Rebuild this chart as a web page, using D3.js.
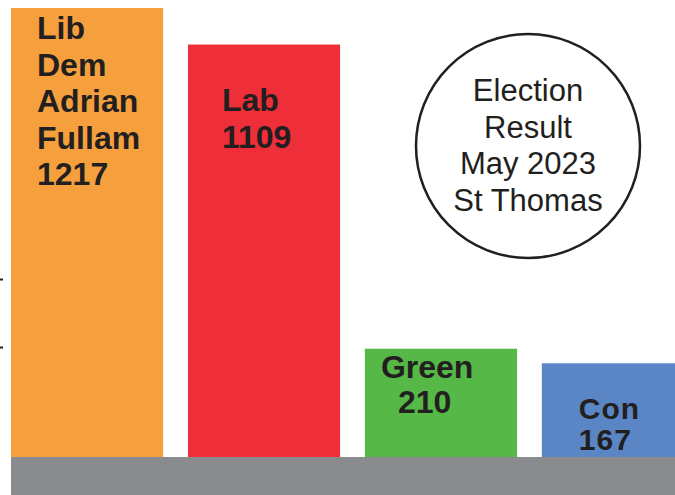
<!DOCTYPE html>
<html>
<head>
  <meta charset="utf-8">
  <script src="https://d3js.org/d3.v7.min.js"></script>
  <style>
    body { margin: 0; background: #fff; }
    svg { display: block; font-family: "Liberation Sans", Arial, sans-serif; }
    .bar-label { font-weight: bold; fill: #231f20; }
    .badge-text { fill: #231f20; text-anchor: middle; }
  </style>
</head>
<body>
  <svg id="chart"></svg>
  <script>
    // data
    const parties = ["Lib Dem", "Lab", "Green", "Con"];
    const votes = [1217, 1109, 210, 167];
    const labelLines = [
      ["Lib", "Dem", "Adrian", "Fullam", "1217"],
      ["Lab", "1109"],
      ["Green", "210"],
      ["Con", "167"]
    ];
    const colors = ["#f5a03d", "#ee2e38", "#56b847", "#5a86c5"];
    const badgeLines = ["Election", "Result", "May 2023", "St Thomas"];
    const axisTicks = [215, 416];

    const width = 675;
    const height = 495;
    const baseY = 457;

    const svg = d3.select("#chart")
      .attr("width", width)
      .attr("height", height);

    // bar positions (last bar runs off the right edge)
    const x = d3.scaleBand()
      .domain(parties)
      .range([11, 694])
      .paddingInner(0.14)
      .paddingOuter(0);

    // bottom of bars hidden behind the grey base
    const y = d3.scaleLinear()
      .domain([-110, 1217])
      .range([baseY, 8]);

    const data = parties.map((p, i) => ({
      party: p, value: votes[i], lines: labelLines[i], color: colors[i]
    }));

    // label layout (offset from bar left / bar top)
    const labelLayout = [
      { dx: [26, 26, 26, 26, 26], dy: 31, lh: 36.6, size: 32, ls: 0 },
      { dx: [34, 34], dy: 66.5, lh: 37, size: 32, ls: 0 },
      { dx: [16, 33], dy: 29, lh: 35.5, size: 32, ls: 0 },
      { dx: [37, 37], dy: 56, lh: 31, size: 30, ls: 1 }
    ];

    // small leftover axis ticks on the left edge
    svg.append("g")
      .attr("transform", "translate(3,0)")
      .call(d3.axisLeft(y).tickValues(axisTicks).tickSize(4).tickFormat(""))
      .call(g => g.select(".domain").remove())
      .call(g => g.selectAll(".tick line").attr("stroke", "#231f20").attr("stroke-width", 2));

    svg.selectAll("rect.bar")
      .data(data)
      .enter()
      .append("rect")
      .attr("class", "bar")
      .attr("x", d => x(d.party))
      .attr("y", d => y(d.value))
      .attr("width", x.bandwidth())
      .attr("height", d => baseY - y(d.value))
      .attr("fill", d => d.color);

    // grey base strip
    svg.append("rect")
      .attr("x", x(parties[0]))
      .attr("y", baseY)
      .attr("width", width - x(parties[0]))
      .attr("height", height - baseY)
      .attr("fill", "#8a8b8f");

    data.forEach((d, i) => {
      const lay = labelLayout[i];
      svg.append("text")
        .attr("class", "bar-label")
        .style("font-size", lay.size + "px")
        .style("letter-spacing", lay.ls + "px")
        .selectAll("tspan")
        .data(d.lines)
        .enter()
        .append("tspan")
        .attr("x", (t, j) => x(d.party) + lay.dx[j])
        .attr("y", (t, j) => y(d.value) + lay.dy + j * lay.lh)
        .text(t => t);
    });

    // title badge
    const badge = svg.append("g");
    badge.append("circle")
      .attr("cx", 528)
      .attr("cy", 146)
      .attr("r", 112)
      .attr("fill", "#fff")
      .attr("stroke", "#231f20")
      .attr("stroke-width", 2.5);

    badge.append("text")
      .attr("class", "badge-text")
      .style("font-size", "31px")
      .selectAll("tspan")
      .data(badgeLines)
      .enter()
      .append("tspan")
      .attr("x", 528)
      .attr("y", (t, j) => 101 + j * 36.7)
      .text(t => t);
  </script>
</body>
</html>
